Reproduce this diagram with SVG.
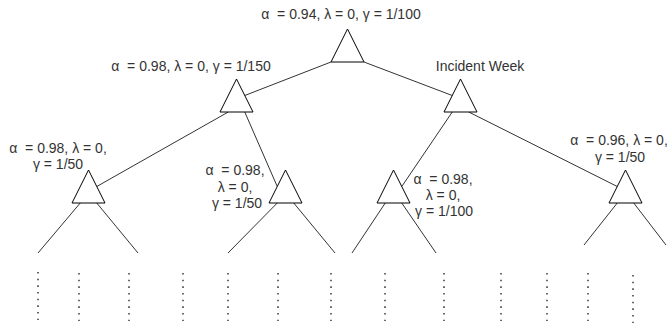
<svg xmlns="http://www.w3.org/2000/svg" width="669" height="326" viewBox="0 0 669 326">
  <style>
    .edge { stroke: #333; stroke-width: 1; fill: none; }
    .dots { stroke: #444; stroke-width: 1.6; stroke-dasharray: 1.6 5.07; fill: none; }
    .tri { fill: #fff; stroke: #000; stroke-width: 1; }
    text { font-family: "Liberation Sans", Arial, sans-serif; font-size: 14px; fill: #333; text-anchor: middle; white-space: pre; }
  </style>

  <!-- connectors between tree levels and to the leaves -->
  <g id="connectors">
    <line class="edge" x1="331" y1="62" x2="244.75" y2="95.5"/>
    <line class="edge" x1="364" y1="62" x2="452.25" y2="95.5"/>
    <line class="edge" x1="228.25" y1="112" x2="96.75" y2="186.5"/>
    <line class="edge" x1="244.75" y1="112" x2="277.25" y2="186.5"/>
    <line class="edge" x1="452.25" y1="112" x2="401.75" y2="186.5"/>
    <line class="edge" x1="468.75" y1="112" x2="617.25" y2="186.5"/>
    <line class="edge" x1="80.25" y1="203" x2="38" y2="253"/>
    <line class="edge" x1="96.75" y1="203" x2="138" y2="253"/>
    <line class="edge" x1="277.25" y1="203" x2="228" y2="253"/>
    <line class="edge" x1="293.75" y1="203" x2="335" y2="253"/>
    <line class="edge" x1="385.25" y1="203" x2="352" y2="253"/>
    <line class="edge" x1="401.75" y1="203" x2="436" y2="253"/>
    <line class="edge" x1="617.25" y1="203" x2="584" y2="245"/>
    <line class="edge" x1="633.75" y1="203" x2="666" y2="245"/>
  </g>

  <!-- continuation dots below the leaves -->
  <g id="continuation">
    <line class="dots" x1="38" y1="272" x2="38" y2="320"/>
    <line class="dots" x1="79" y1="273" x2="79" y2="321"/>
    <line class="dots" x1="129" y1="273" x2="129" y2="321"/>
    <line class="dots" x1="183" y1="273" x2="183" y2="321"/>
    <line class="dots" x1="228" y1="273" x2="228" y2="321"/>
    <line class="dots" x1="278" y1="273" x2="278" y2="321"/>
    <line class="dots" x1="331" y1="273" x2="331" y2="321"/>
    <line class="dots" x1="385" y1="273" x2="385" y2="321"/>
    <line class="dots" x1="444" y1="273" x2="444" y2="321"/>
    <line class="dots" x1="501" y1="273" x2="501" y2="321"/>
    <line class="dots" x1="547" y1="273" x2="547" y2="321"/>
    <line class="dots" x1="588" y1="273" x2="588" y2="321"/>
    <line class="dots" x1="633" y1="275" x2="633" y2="323"/>
  </g>

  <g id="root">
    <polygon class="tri" points="347.5,29 364,62 331,62"/>
    <text x="341" y="19">α  = 0.94, λ = 0, γ = 1/100</text>
  </g>

  <g id="level1-left">
    <polygon class="tri" points="236.5,79 253,112 220,112"/>
    <text x="191" y="71">α  = 0.98, λ = 0, γ = 1/150</text>
  </g>

  <g id="level1-right">
    <polygon class="tri" points="460.5,79 477,112 444,112"/>
    <text x="480" y="71">Incident Week</text>
  </g>

  <g id="level2-a">
    <polygon class="tri" points="88.5,170 105,203 72,203"/>
    <text x="58" y="153">α  = 0.98, λ = 0,</text>
    <text x="58" y="169">γ = 1/50</text>
  </g>

  <g id="level2-b">
    <polygon class="tri" points="285.5,170 302,203 269,203"/>
    <text x="235" y="175">α  = 0.98,</text>
    <text x="235" y="192">λ = 0,</text>
    <text x="237" y="208">γ = 1/50</text>
  </g>

  <g id="level2-c">
    <polygon class="tri" points="393.5,170 410,203 377,203"/>
    <text x="443" y="184">α  = 0.98,</text>
    <text x="443" y="200">λ = 0,</text>
    <text x="444" y="216">γ = 1/100</text>
  </g>

  <g id="level2-d">
    <polygon class="tri" points="625.5,170 642,203 609,203"/>
    <text x="619" y="145">α  = 0.96, λ = 0,</text>
    <text x="620" y="162">γ = 1/50</text>
  </g>
</svg>
